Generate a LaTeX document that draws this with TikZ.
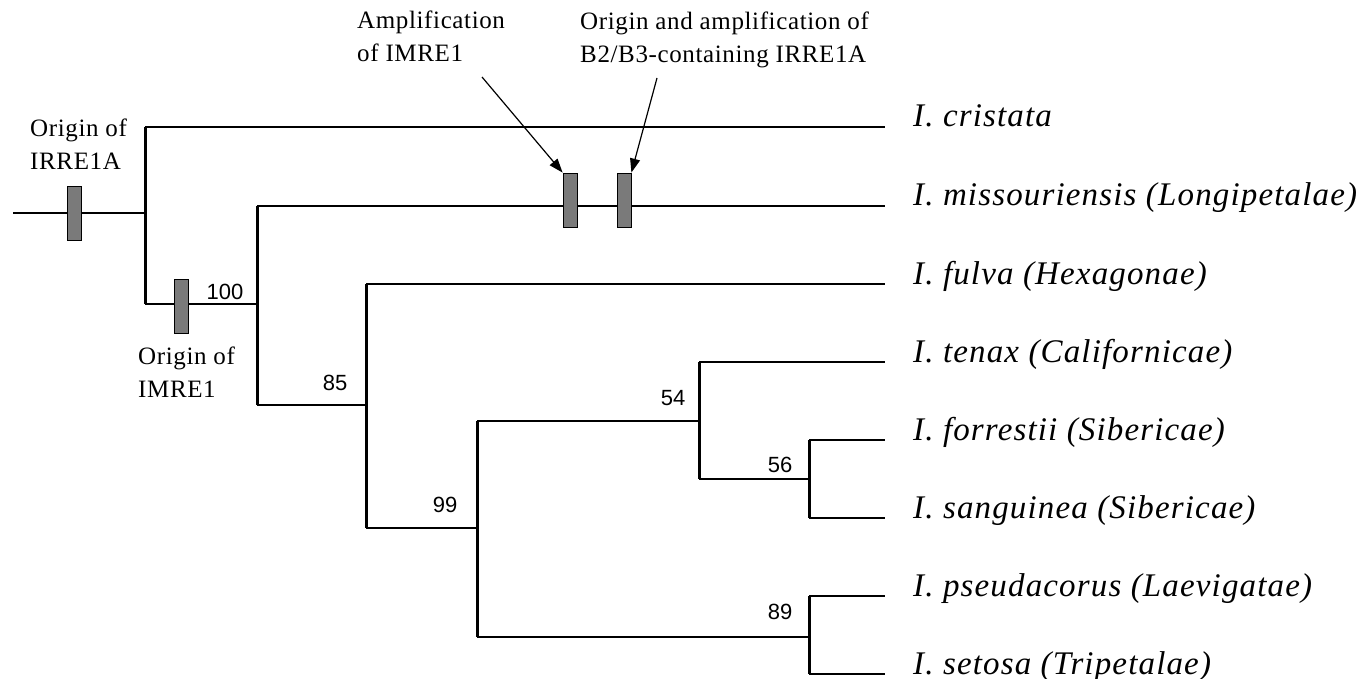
\documentclass[tikz,border=0pt]{standalone}
\usepackage{fontspec}
\setmainfont{Liberation Serif}
\newfontfamily\numfont{Liberation Sans}
\newfontfamily\spfont[LetterSpace=3.5]{Liberation Serif}
\newfontfamily\annfont[LetterSpace=2.5]{Liberation Serif}
\usetikzlibrary{arrows.meta}
\definecolor{boxgray}{RGB}{122,122,122}
\begin{document}
\begin{tikzpicture}[x=1pt,y=-1pt,
  hbranch/.style={line width=1.5pt},
  vbranch/.style={line width=3pt},
  eventbox/.style={draw=black,line width=0.8pt,fill=boxgray,minimum width=14pt,minimum height=54pt,inner sep=0pt},
  species/.style={anchor=base west,inner sep=0pt,font=\spfont\itshape\fontsize{33}{38}\selectfont},
  support/.style={inner sep=0pt,font=\numfont\fontsize{22}{26}\selectfont},
  note/.style={anchor=base west,inner sep=0pt,align=left,font=\annfont\fontsize{25}{33}\selectfont},
  pointer/.style={line width=1.2pt,-{Triangle[length=14pt,width=10pt]}}]
\useasboundingbox (0,0) rectangle (1366,679);
% internal nodes
\coordinate (root) at (13,213);
\coordinate (n0) at (145,213);
\coordinate (n100) at (257,304);
\coordinate (n85) at (366,405);
\coordinate (n99) at (477,528);
\coordinate (n54) at (699,421);
\coordinate (n56) at (809,479);
\coordinate (n89) at (809,637);
% leaf ends
\coordinate (l1) at (885,127);
\coordinate (l2) at (885,206);
\coordinate (l3) at (885,284);
\coordinate (l4) at (885,362);
\coordinate (l5) at (885,440);
\coordinate (l6) at (885,518);
\coordinate (l7) at (885,596);
\coordinate (l8) at (885,674);
% horizontal branches
\draw[hbranch] (root) -- (n0);
\draw[hbranch] (n0 |- l1) -- (l1);
\draw[hbranch] (n0 |- n100) -- (n100);
\draw[hbranch] (n100 |- l2) -- (l2);
\draw[hbranch] (n100 |- n85) -- (n85);
\draw[hbranch] (n85 |- l3) -- (l3);
\draw[hbranch] (n85 |- n99) -- (n99);
\draw[hbranch] (n99 |- n54) -- (n54);
\draw[hbranch] (n54 |- l4) -- (l4);
\draw[hbranch] (n54 |- n56) -- (n56);
\draw[hbranch] (n56 |- l5) -- (l5);
\draw[hbranch] (n56 |- l6) -- (l6);
\draw[hbranch] (n99 |- n89) -- (n89);
\draw[hbranch] (n89 |- l7) -- (l7);
\draw[hbranch] (n89 |- l8) -- (l8);
% vertical branches
\draw[vbranch] (n0 |- l1) -- (n0 |- n100);
\draw[vbranch] (n100 |- l2) -- (n100 |- n85);
\draw[vbranch] (n85 |- l3) -- (n85 |- n99);
\draw[vbranch] (n99 |- n54) -- (n99 |- n89);
\draw[vbranch] (n54 |- l4) -- (n54 |- n56);
\draw[vbranch] (n56 |- l5) -- (n56 |- l6);
\draw[vbranch] (n89 |- l7) -- (n89 |- l8);
% species
\node[species] (t1) at (913,127) {I. cristata};
\node[species] (t2) at (913,206) {I. missouriensis (Longipetalae)};
\node[species] (t3) at (913,284) {I. fulva (Hexagonae)};
\node[species] (t4) at (913,362) {I. tenax (Californicae)};
\node[species] (t5) at (913,440) {I. forrestii (Sibericae)};
\node[species] (t6) at (913,518) {I. sanguinea (Sibericae)};
\node[species] (t7) at (913,596) {I. pseudacorus (Laevigatae)};
\node[species] (t8) at (913,674) {I. setosa (Tripetalae)};
% support values
\node[support] (s100) at (225,292) {100};
\node[support] (s85) at (335,383) {85};
\node[support] (s99) at (445,505) {99};
\node[support] (s54) at (673,398) {54};
\node[support] (s56) at (780,465) {56};
\node[support] (s89) at (780,612) {89};
% event boxes
\node[eventbox] (b1) at (74,213) {};
\node[eventbox] (b2) at (181,306) {};
\node[eventbox] (b3) at (570,200) {};
\node[eventbox] (b4) at (624,200) {};
% notes
\node[note] (c1) at (30,170) {Origin of\\IRRE1A};
\node[note] (c2) at (138,397) {Origin of\\IMRE1};
\node[note] (c3) at (357,62) {Amplification\\of IMRE1};
\node[note] (c4) at (580,63) {Origin and amplification of\\B2/B3-containing IRRE1A};
\coordinate (p3) at (482,77);
\coordinate (p4) at (657,78);
\draw[pointer] (p3) -- (b3.north west);
\draw[pointer] (p4) -- (b4.north east);
\end{tikzpicture}
\end{document}
